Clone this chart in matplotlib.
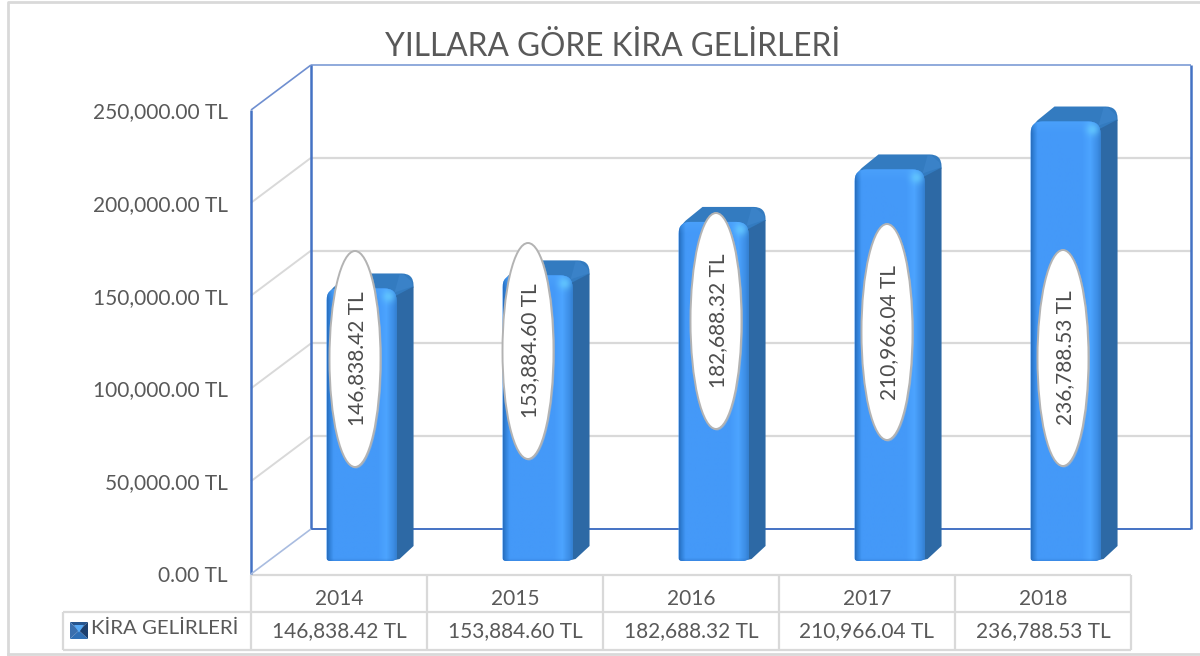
import numpy as np
import matplotlib
matplotlib.use("Agg")
import matplotlib.pyplot as plt
from matplotlib.patches import Ellipse, Polygon, PathPatch
from matplotlib.path import Path
from matplotlib.lines import Line2D
from matplotlib.transforms import IdentityTransform

# ---- data ----
title = "YILLARA GÖRE KİRA GELİRLERİ"
series_name = "KİRA GELİRLERİ"
categories = ["2014", "2015", "2016", "2017", "2018"]
values = [146838.42, 153884.60, 182688.32, 210966.04, 236788.53]
y_ticks = [0, 50000, 100000, 150000, 200000, 250000]

W, H = 1200, 656
plt.rcParams["font.family"] = ["Lato", "DejaVu Sans"]
TXT = "#595959"; GRID = "#d9d9d9"; BLUE = "#4472c4"; LBLUE = "#8faadc"
FS = 15

def money(v):
    return f"{v:,.2f} TL"

fig = plt.figure(figsize=(12, 6.56), dpi=100, facecolor="white")
ax = fig.add_axes([251 / W, (H - 574) / H, 880 / W, 464 / H])
ax.set_facecolor("none")
ax.set_xlim(-0.5, 4.5)
ax.set_ylim(0, 250000)
ax.set_yticks(y_ticks, [money(t) for t in y_ticks], fontsize=FS, color=TXT)
ax.set_xticks(range(len(categories)), categories, fontsize=FS, color=TXT)
ax.tick_params(axis="y", length=0, pad=16.5)
ax.tick_params(axis="x", length=0, pad=10.5)
for s in ax.spines.values():
    s.set_visible(False)

ID = IdentityTransform()
def P(x, y):           # image pixel -> display
    return (x, H - y)
def D(c, v):           # data -> image pixel
    x, y = ax.transData.transform((c, v))
    return x, H - y

def line(xs, ys, color, lw, z=1):
    fig_line = Line2D(xs, [H - y for y in ys], color=color, lw=lw, transform=ID,
                      zorder=z, solid_capstyle="butt")
    ax.add_line(fig_line)
    fig_line.set_clip_on(False)

DX, DY = 60, -45      # wall depth
x0, y_top = D(-0.5, 250000)
x1, y_base = D(4.5, 0)

# outer frame
fig.add_artist(Line2D([8 / W, 8 / W, 1], [2 / H, 1 - 1.5 / H, 1 - 1.5 / H], color=GRID, lw=2))
fig.add_artist(Line2D([8 / W, 1], [2 / H, 2 / H], color=GRID, lw=2))

# walls
for t in y_ticks:
    _, y = D(0, t)
    if t not in (0, 250000):
        line([x0 + DX, x1 + DX], [y + DY, y + DY], GRID, 1.6)
        line([x0, x0 + DX], [y, y + DY], GRID, 1.4)
line([x0 + DX, x1 + DX], [y_base + DY] * 2, BLUE, 1.4, 2)
line([x0 + DX, x1 + DX], [y_top + DY] * 2, LBLUE, 1.4, 2)
line([x0 + DX] * 2, [y_top + DY, y_base + DY], BLUE, 1.8, 2)
line([x1 + DX] * 2, [y_top + DY, y_base + DY], BLUE, 1.8, 2)
line([x0] * 2, [y_top, y_base], BLUE, 1.8, 2)
line([x0, x0 + DX], [y_top, y_top + DY], "#6f8fd0", 1.2, 2)
line([x0, x0 + DX], [y_base, y_base + DY], "#a9bce0", 1.2, 2)

# table
tY0, tY1, tY2 = 575, 612, 650
edges = [D(i - 0.5, 0)[0] for i in range(len(categories) + 1)]
line([edges[0], edges[-1]], [tY0, tY0], GRID, 1.6)
line([63, edges[-1]], [tY1, tY1], GRID, 1.6)
line([63, edges[-1]], [tY2, tY2], GRID, 1.6)
line([63, 63], [tY1, tY2], GRID, 1.6)
for e in edges:
    line([e, e], [tY0, tY2], GRID, 1.6)
for i, v in enumerate(values):
    xc = D(i, 0)[0]
    ax.text(xc, H - 631, money(v), transform=ID, ha="center", va="center",
            fontsize=FS, color=TXT, clip_on=False)
ax.text(91, H - 628, series_name, transform=ID, ha="left", va="center",
        fontsize=14.7, color=TXT, clip_on=False)

# legend key
kx0, kx1, ky0, ky1 = 70, 88, 622, 639
kcx, kcy = (kx0 + kx1) / 2, (ky0 + ky1) / 2
out = [(kx0, ky0), (kx1, ky0), (kx1, ky1), (kx0, ky1)]
for k, col in enumerate(["#26558f", "#1c3f6e", "#2f6fb5", "#3a6fae"]):
    pts = [P(*out[k]), P(*out[(k + 1) % 4]), P(kcx, kcy)]
    ax.add_patch(Polygon(pts, closed=True, fc=col, ec="none", transform=ID, clip_on=False, zorder=3))
ax.add_patch(Polygon([P(kcx - 5, ky0 + 3), P(kcx + 5, ky0 + 3), P(kcx, kcy + 2)], closed=True,
                     fc="#56a8f5", ec="none", transform=ID, clip_on=False, zorder=3))

# bars
BAR_W = 0.398           # of a category
SHIFT = 0.128           # depth shift of front face, in categories
BASE = 13               # px above the axis-front baseline
SIDE_X, SIDE_Y = 17, 15
SIDE = "#2d69a5"; TOP = "#337bc0"

def front_shade(w, h):
    """RGB array of the lit front face"""
    xs = np.linspace(0, 1, int(w))
    stops_x = [0, 0.03, 0.09, 0.72, 0.84, 0.94, 1]
    r = np.interp(xs, stops_x, [0x2a, 0x30, 0x44, 0x44, 0x4c, 0x3d, 0x30])
    g = np.interp(xs, stops_x, [0x70, 0x80, 0x99, 0x99, 0xa4, 0x8e, 0x7c])
    b = np.interp(xs, stops_x, [0xc0, 0xd8, 0xf8, 0xf8, 0xff, 0xe6, 0xcc])
    arr = np.ones((int(h), int(w), 3))
    arr[..., 0] = r / 255; arr[..., 1] = g / 255; arr[..., 2] = b / 255
    yy = np.arange(int(h))[:, None]
    xx = np.arange(int(w))[None, :]
    top = np.clip((12 - yy) / 12, 0, 1)[..., None] * 0.35
    arr = arr * (1 - top) + np.array([0.33, 0.68, 1.0]) * top
    gl = np.exp(-(((xx - w * 0.86) / 6.0) ** 2 + ((yy - 8) / 6.0) ** 2))[..., None] * 0.75
    arr = arr * (1 - gl) + np.array([0.40, 0.80, 1.0]) * gl
    bot = np.clip((yy - (h - 4)) / 4, 0, 1)[..., None] * 0.45
    arr = arr * (1 - bot) + np.array([0.15, 0.42, 0.75]) * bot
    return np.clip(arr, 0, 1)

for i, v in enumerate(values):
    xl, _ = D(i + SHIFT - BAR_W / 2, 0)
    xr, _ = D(i + SHIFT + BAR_W / 2, 0)
    _, yb = D(i, 0)
    yb -= BASE
    _, yt = D(i, v)
    yt -= BASE
    z = 5
    xe = xr + SIDE_X
    ytb = yt - SIDE_Y
    # top face (rounded chamfer)
    top_path = Path(
        [P(xl + 2, yt + 8), P(xl + 3, yt + 2), P(xl + 8, yt - 2), P(xl + 24, ytb), P(xe - 12, ytb), P(xe, ytb),
         P(xe, ytb + 12), P(xe, yt - 1), P(xr, yt + 8), P(xl + 2, yt + 8)],
        [Path.MOVETO, Path.CURVE3, Path.CURVE3, Path.LINETO, Path.LINETO, Path.CURVE3, Path.CURVE3,
         Path.LINETO, Path.LINETO, Path.CLOSEPOLY])
    ax.add_patch(PathPatch(top_path, fc=TOP, ec="none", transform=ID, clip_on=False, zorder=z))
    ax.add_patch(Polygon([P(xr - 2, yt + 4), P(xr + 3, ytb + 1), P(xe - 10, ytb + 1), P(xe - 2, ytb + 8),
                          P(xe - 1, yt - 2)], closed=True, fc="#3a82c8", ec="none",
                         transform=ID, clip_on=False, zorder=z))
    # side face
    side = [P(xr - 6, yb), P(xr + 3, yb - 2), P(xe, yb - SIDE_Y), P(xe, yt - 2), P(xr - 4, yt + 9)]
    ax.add_patch(Polygon(side, closed=True, fc=SIDE, ec="none", transform=ID, clip_on=False, zorder=z))
    # front face
    r = 12
    path = Path([P(xl + r, yt), P(xr - r, yt), P(xr, yt), P(xr, yt + r), P(xr, yb - 3), P(xr, yb), P(xr - 8, yb),
                 P(xl + 4, yb), P(xl, yb), P(xl, yb - 3), P(xl, yt + r), P(xl, yt), P(xl + r, yt), P(xl + r, yt)],
                [Path.MOVETO, Path.LINETO, Path.CURVE3, Path.CURVE3, Path.LINETO, Path.CURVE3, Path.CURVE3,
                 Path.LINETO, Path.CURVE3, Path.CURVE3, Path.LINETO, Path.CURVE3, Path.CURVE3, Path.CLOSEPOLY])
    pp = PathPatch(path, fc="#4499f8", ec="none", transform=ID, clip_on=False, zorder=z + 1)
    ax.add_patch(pp)
    im = ax.imshow(front_shade(xr - xl, yb - yt), extent=(xl, xr, H - yb, H - yt), transform=ID,
                   aspect="auto", zorder=z + 1, interpolation="bilinear")
    im.set_clip_path(pp)

# data-label bubbles (image-pixel placement)
bubble_centers = [(355, 359), (528, 351), (716, 321), (887, 332), (1063, 358)]
for (cx, cy), v in zip(bubble_centers, values):
    ax.add_patch(Ellipse((cx + 1, H - cy - 1), 52, 217, fc="#bdbdbd", ec="none", alpha=0.5,
                         transform=ID, clip_on=False, zorder=8))
    ax.add_patch(Ellipse(P(cx, cy), 51, 216, fc="white", ec="#b3b3b3", lw=1.4,
                         transform=ID, clip_on=False, zorder=9))
    ax.text(cx + 2, H - cy, money(v), rotation=90, transform=ID, ha="center", va="center",
            fontsize=FS, color="#4d4d4d", clip_on=False, zorder=10)

ax.set_xlim(-0.5, 4.5)
ax.set_ylim(0, 250000)

fig.text(613 / W, 1 - 47 / H, title, ha="center", va="center", fontsize=22.8, color=TXT)

fig.savefig("out.png", dpi=100)
